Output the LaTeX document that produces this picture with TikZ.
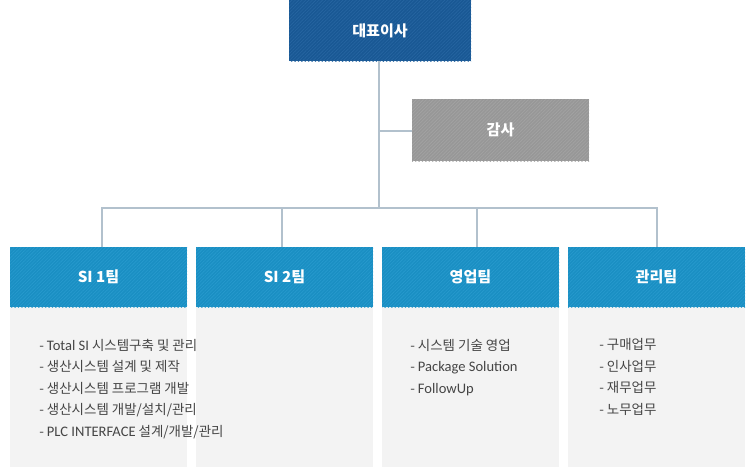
\documentclass[tikz,border=0pt]{standalone}
\usepackage{fontspec}
\setmainfont{Noto Sans CJK KR}
\newfontfamily\lat[Scale=1.08]{Carlito}
\usetikzlibrary{patterns.meta}
\definecolor{ceo}{HTML}{195894}
\definecolor{ceoS}{HTML}{2766A2}
\definecolor{aud}{HTML}{979797}
\definecolor{audS}{HTML}{A4A4A4}
\definecolor{team}{HTML}{1A8FC3}
\definecolor{teamS}{HTML}{289BCE}
\definecolor{panel}{HTML}{F3F3F3}
\definecolor{conn}{HTML}{B2C1CD}
\definecolor{txt}{HTML}{454545}
\tikzset{
  boxbase/.style={inner sep=0pt, text=white, font=\fontsize{11.3}{13}\selectfont\bfseries},
  ceobox/.style={boxbase, fill=ceo, minimum width=182*0.75pt, minimum height=61*0.75pt,
    postaction={pattern={Lines[angle=45,distance=1.8pt,line width=0.45pt]}, pattern color=ceoS}},
  audbox/.style={boxbase, fill=aud, minimum width=177*0.75pt, minimum height=62*0.75pt,
    postaction={pattern={Lines[angle=45,distance=1.8pt,line width=0.45pt]}, pattern color=audS}},
  teambox/.style={boxbase, fill=team, minimum width=177*0.75pt, minimum height=60*0.75pt,
    postaction={pattern={Lines[angle=45,distance=1.8pt,line width=0.45pt]}, pattern color=teamS}},
  panelbox/.style={fill=panel, inner sep=0pt, minimum width=177*0.75pt, minimum height=160*0.75pt},
  item/.style={anchor=base west, inner sep=0pt, text=txt, font=\fontsize{10.1}{12}\selectfont},
  link/.style={draw=conn, line width=1.6pt}
}
\begin{document}
\begin{tikzpicture}[x=0.75pt,y=-0.75pt]
\useasboundingbox (0,0) rectangle (755,472);
% panels
\node[panelbox] (p1) at (98.5,387) {};
\node[panelbox] (p2) at (284.5,387) {};
\node[panelbox] (p3) at (470.5,387) {};
\node[panelbox] (p4) at (656.5,387) {};
% connectors
\coordinate (bus) at (379,208);
\coordinate (b1) at (102,208);
\coordinate (b2) at (282,208);
\coordinate (b3) at (477,208);
\coordinate (b4) at (657,208);
\coordinate (aj) at (379,131);
% boxes
\node[ceobox] (ceo) at (380,30.5) {대표이사};
\node[audbox] (aud) at (500.5,130) {감사};
\node[teambox] (t1) at (98.5,277) {SI 1팀};
\node[teambox] (t2) at (284.5,277) {SI 2팀};
\node[teambox] (t3) at (470.5,277) {영업팀};
\node[teambox] (t4) at (656.5,277) {관리팀};
\draw[link] (ceo.south -| bus) -- (bus);
\draw[link] (aj) -- (aj -| aud.west);
\draw[link] (b1 |- t1.north) -- (b1) -- (b4) -- (b4 |- t4.north);
\draw[link] (b2) -- (b2 |- t2.north);
\draw[link] (b3) -- (b3 |- t3.north);
% lists
\foreach \t [count=\i] in {{- {\lat Total SI} 시스템구축 및 관리},{- 생산시스템 설계 및 제작},{- 생산시스템 프로그램 개발},{- 생산시스템 개발/설치/관리},{- {\lat PLC INTERFACE} 설계/개발/관리}}
  \node[item] (a\i) at (39,{350+21.6*(\i-1)}) {\t};
\foreach \t [count=\i] in {{- 시스템 기술 영업},{- {\lat Package Solution}},{- {\lat FollowUp}}}
  \node[item] (c\i) at (410,{350+21.6*(\i-1)}) {\t};
\foreach \t [count=\i] in {{- 구매업무},{- 인사업무},{- 재무업무},{- 노무업무}}
  \node[item] (d\i) at (599,{349.5+21.6*(\i-1)}) {\t};
\end{tikzpicture}
\end{document}
